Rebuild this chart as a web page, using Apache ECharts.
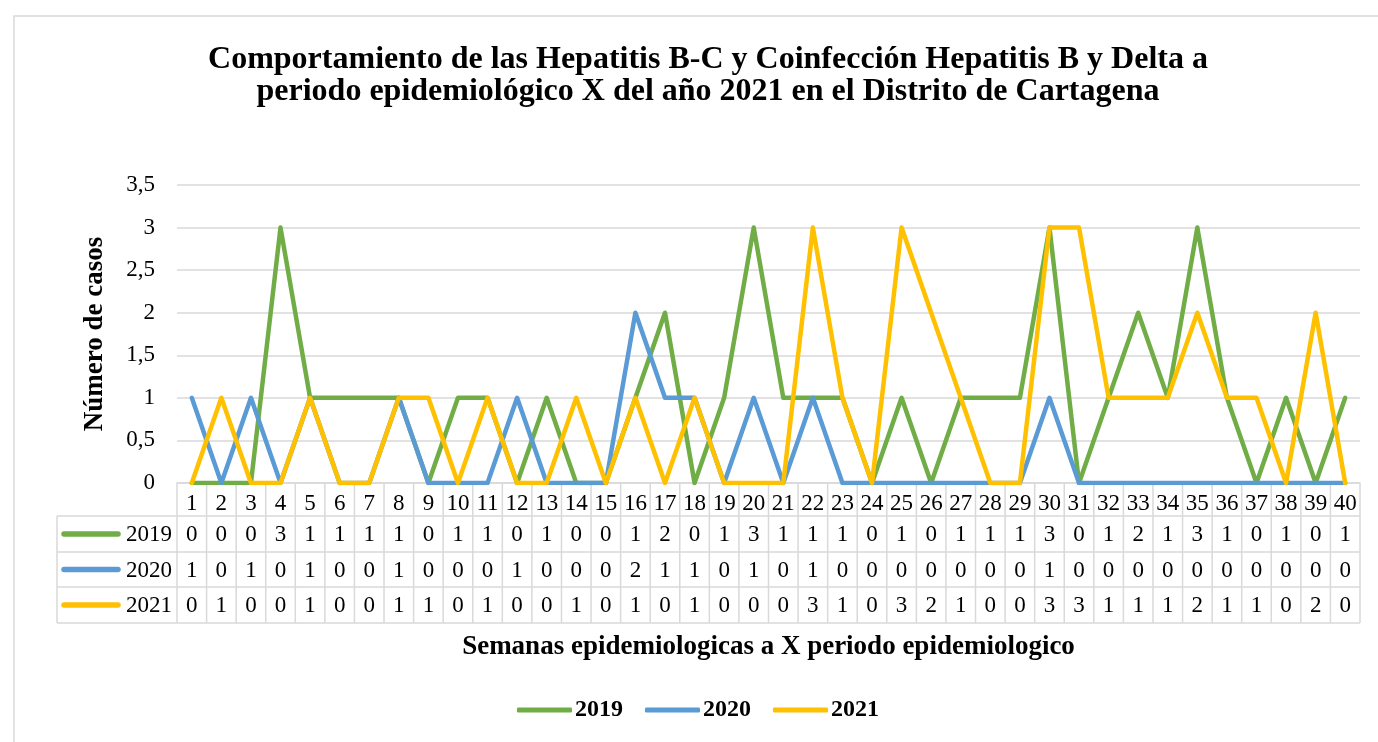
<!DOCTYPE html>
<html><head><meta charset="utf-8">
<script src="https://cdn.jsdelivr.net/npm/echarts@6/dist/echarts.min.js"></script>
<style>html,body{margin:0;padding:0;background:#fff}#c{width:1378px;height:742px}</style>
</head><body><div id="c"></div>
<script>
const weeks = ['1','2','3','4','5','6','7','8','9','10','11','12','13','14','15','16','17','18','19','20','21','22','23','24','25','26','27','28','29','30','31','32','33','34','35','36','37','38','39','40'];
const s2019 = [0,0,0,3,1,1,1,1,0,1,1,0,1,0,0,1,2,0,1,3,1,1,1,0,1,0,1,1,1,3,0,1,2,1,3,1,0,1,0,1];
const s2020 = [1,0,1,0,1,0,0,1,0,0,0,1,0,0,0,2,1,1,0,1,0,1,0,0,0,0,0,0,0,1,0,0,0,0,0,0,0,0,0,0];
const s2021 = [0,1,0,0,1,0,0,1,1,0,1,0,0,1,0,1,0,1,0,0,0,3,1,0,3,2,1,0,0,3,3,1,1,1,2,1,1,0,2,0];
const seriesNames = ['2019','2020','2021'];
const seriesData = [s2019, s2020, s2021];
const colors = ['#70AD47','#5B9BD5','#FFC000'];
const titleLines = ['Comportamiento de las Hepatitis B-C y Coinfección Hepatitis B y Delta a','periodo epidemiológico X del año 2021 en el Distrito de Cartagena'];
const yTitle = 'Número de casos';
const xTitle = 'Semanas epidemiologicas a X periodo epidemiologico';

const FONT = '"Liberation Serif","Times New Roman",serif';
const GRID_COLOR = '#d9d9d9';
const chart = echarts.init(document.getElementById('c'), null, {renderer:'canvas'});

const base = {
  animation: false,
  backgroundColor: '#fff',
  color: colors,
  title: {
    text: titleLines.join('\n'),
    left: 703, top: 39, textAlign: 'center',
    textStyle: {fontFamily: FONT, fontWeight: 'bold', fontSize: 32, lineHeight: 32, color: '#000'}
  },
  legend: {
    data: seriesNames,
    left: 512, top: 693,
    itemWidth: 55, itemHeight: 5, itemGap: 22,
    icon: 'roundRect',
    textStyle: {fontFamily: FONT, fontWeight: 'bold', fontSize: 24, color: '#000', padding: [0,0,0,-2]}
  },
  grid: {left: 177, right: 18, top: 185, bottom: 259, containLabel: false},
  xAxis: {
    type: 'category', data: weeks, boundaryGap: true,
    axisLine: {show: true, lineStyle: {color: GRID_COLOR, width: 1.5}},
    axisTick: {show: false},
    axisLabel: {interval: 0, margin: 9, fontFamily: FONT, fontSize: 23, color: '#000'},
    name: xTitle, nameLocation: 'middle', nameGap: 151,
    nameTextStyle: {fontFamily: FONT, fontWeight: 'bold', fontSize: 27, color: '#000'}
  },
  yAxis: {
    type: 'value', min: 0, max: 3.5, interval: 0.5,
    axisLine: {show: false}, axisTick: {show: false},
    splitLine: {lineStyle: {color: GRID_COLOR, width: 1.5}},
    axisLabel: {margin: 22, fontFamily: FONT, fontSize: 23, color: '#000',
      formatter: v => String(v).replace('.', ',')},
    name: yTitle, nameLocation: 'middle', nameGap: 68, nameRotate: 90,
    nameTextStyle: {fontFamily: FONT, fontWeight: 'bold', fontSize: 27, color: '#000'}
  },
  series: seriesNames.map((n, i) => ({
    name: n, type: 'line', data: seriesData[i], symbol: 'none',
    lineStyle: {width: 4.5, color: colors[i], cap: 'round', join: 'round'},
    itemStyle: {color: colors[i]}
  }))
};
chart.setOption(base);

// build the data table beneath the axis
const rowTops = [516, 552, 587, 623];
const headerTop = 483;
const tableLeft = 57;
const graphics = [];
const c0 = chart.convertToPixel({xAxisIndex: 0}, 0);
const c1 = chart.convertToPixel({xAxisIndex: 0}, 1);
const w = c1 - c0;
const firstEdge = c0 - w / 2;
const lastEdge = chart.convertToPixel({xAxisIndex: 0}, weeks.length - 1) + w / 2;
const lineStyle = {stroke: GRID_COLOR, lineWidth: 1.5};
for (let k = 0; k <= weeks.length; k++) {
  const x = firstEdge + k * w;
  graphics.push({type: 'line', shape: {x1: x, y1: headerTop, x2: x, y2: rowTops[3]}, style: lineStyle, silent: true});
}
graphics.push({type: 'line', shape: {x1: tableLeft, y1: rowTops[0], x2: tableLeft, y2: rowTops[3]}, style: lineStyle, silent: true});
rowTops.forEach(y => graphics.push({type: 'line', shape: {x1: tableLeft, y1: y, x2: lastEdge, y2: y}, style: lineStyle, silent: true}));
seriesNames.forEach((n, r) => {
  const yc = (rowTops[r] + rowTops[r + 1]) / 2;
  graphics.push({type: 'line', shape: {x1: 64, y1: yc, x2: 118, y2: yc},
    style: {stroke: colors[r], lineWidth: 5.5, lineCap: 'round'}, silent: true});
  graphics.push({type: 'text', style: {text: n, x: 172, y: yc + 1, textAlign: 'right', textVerticalAlign: 'middle', align: 'right', verticalAlign: 'middle',
    font: '23px ' + FONT, fill: '#000'}, silent: true});
  seriesData[r].forEach((v, i) => {
    const x = chart.convertToPixel({xAxisIndex: 0}, i);
    graphics.push({type: 'text', style: {text: String(v), x: x, y: yc + 1, textAlign: 'center', textVerticalAlign: 'middle', align: 'center', verticalAlign: 'middle',
      font: '23px ' + FONT, fill: '#000'}, silent: true});
  });
});
graphics.push({type: 'rect', shape: {x: 14, y: 16, width: 1420, height: 800}, style: {fill: 'none', stroke: GRID_COLOR, lineWidth: 1.5}, silent: true, z: -1});
chart.setOption({graphic: {elements: graphics}});
</script></body></html>
